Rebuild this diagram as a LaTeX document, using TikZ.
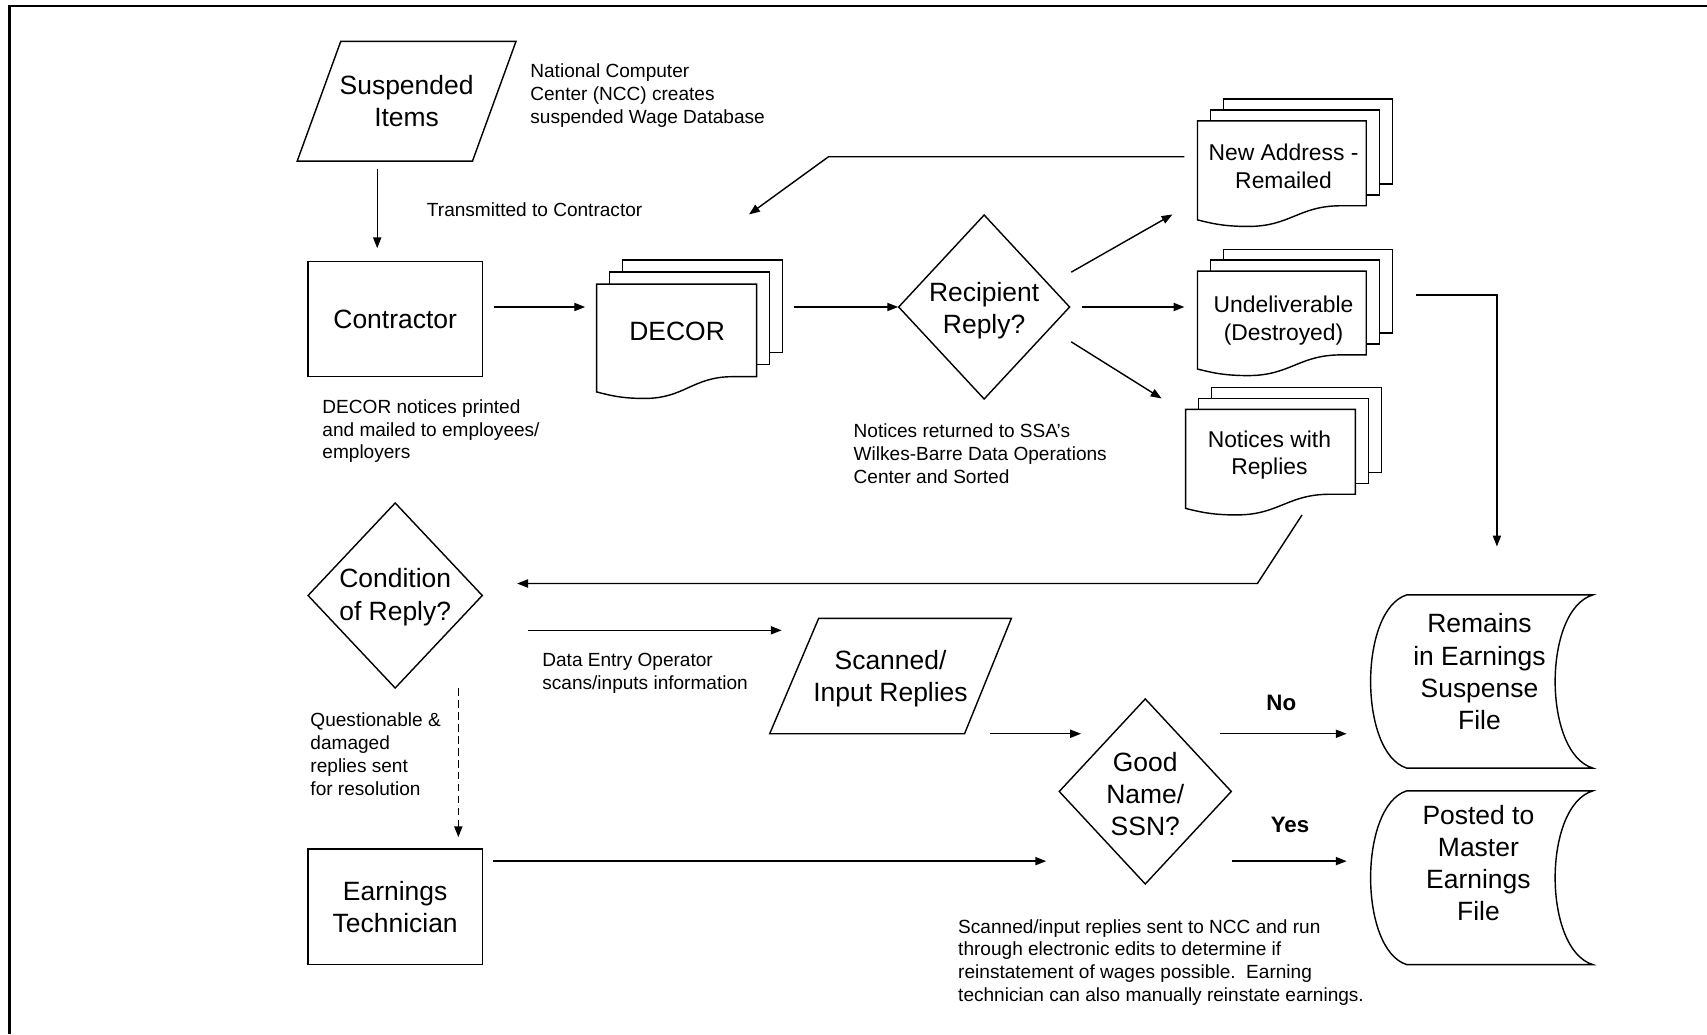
\documentclass[tikz,border=0pt]{standalone}
\usepackage{fontspec}
\setmainfont{Liberation Sans}
\usetikzlibrary{arrows.meta}
\newcommand{\mdoc}[6]{%
  % #1 L, #2 R, #3 T, #4 B (left bottom), #5 RB (right bottom), #6 dy
  \draw[shp] ({#1+24},{#3-#6}) -- ({#1+24},{#3-2*#6}) -- ({#2+24},{#3-2*#6}) -- ({#2+24},{#5-2*#6}) -- ({#2+12},{#5-2*#6});
  \draw[shp] ({#1+12},#3) -- ({#1+12},{#3-#6}) -- ({#2+12},{#3-#6}) -- ({#2+12},{#5-#6}) -- (#2,{#5-#6});
  \draw[shp] (#1,#4) -- (#1,#3) -- (#2,#3) -- (#2,#5) -- ({#1+0.85*(#2-#1)},#5)
    .. controls ({#1+0.6*(#2-#1)},#5) and ({#1+0.55*(#2-#1)},{#4+6}) .. ({#1+0.3*(#2-#1)},{#4+6})
    .. controls ({#1+0.15*(#2-#1)},{#4+6}) and ({#1+0.08*(#2-#1)},{#4+3}) .. (#1,#4) -- cycle;
}
\newcommand{\stored}[4]{%
  % #1 left corner x, #2 right corner x, #3 top, #4 bottom
  \draw[shp] (#1,#3) -- (#2,#3)
    .. controls ({#2-46},{#3+14}) and ({#2-46},{#4-14}) .. (#2,#4) -- (#1,#4)
    .. controls ({#1-44},{#4-14}) and ({#1-44},{#3+14}) .. (#1,#3) -- cycle;
}
\begin{document}
\begin{tikzpicture}[x=1pt,y=-1pt,
  shp/.style={line width=1.3pt, line join=miter},
  conn/.style={line width=1.3pt, -{Triangle[length=10pt,width=7.5pt]}},
  lbl/.style={inner sep=0pt, align=center, font=\fontsize{24.3}{29.5}\selectfont},
  doclbl/.style={inner sep=0pt, align=center, font=\fontsize{21}{25.5}\selectfont},
  note/.style={inner sep=0pt, align=left, anchor=west, font=\fontsize{17.5}{21}\selectfont},
  yn/.style={inner sep=0pt, font=\fontsize{20.5}{24}\selectfont\bfseries}]
\useasboundingbox (0,0) rectangle (1568,950);
% frame
\draw[line width=2.2pt] (8.6,950) -- (8.6,5.5) -- (1568,5.5);

% Suspended Items
\draw[shp] (313,38) -- (474,38) -- (434,148) -- (273,148) -- cycle;
\node[lbl] (susp) at (373.5,93) {Suspended\\Items};
\node[note] (ncc) at (487,88) {National Computer\\Center (NCC) creates\\suspended Wage Database};
\node[note] (trans) at (392,193) {Transmitted to Contractor};

% Contractor
\node[draw, shp, lbl, minimum width=160pt, minimum height=106pt] (contr) at (363,293) {Contractor};
\node[note] (decornote) at (296,396) {DECOR notices printed\\and mailed to employees/\\employers};

% DECOR
\mdoc{548}{695}{261}{360}{346}{11}
\node[lbl] (decor) at (622,304) {DECOR};

% Recipient Reply
\draw[shp] (904,197.5) -- (982.5,282) -- (904,366.5) -- (825.5,282) -- cycle;
\node[lbl] (recip) at (904,285) {Recipient\\Reply?};
\node[note] (retnote) at (784,417) {Notices returned to SSA’s\\Wilkes-Barre Data Operations\\Center and Sorted};

% Documents on the right
\mdoc{1100}{1255}{111}{202}{189}{10}
\node[doclbl] (newaddr) at (1179,153) {New Address -\\Remailed};
\mdoc{1100}{1255}{249}{339}{326}{10}
\node[doclbl] (undel) at (1179,294.5) {Undeliverable\\(Destroyed)};
\mdoc{1089}{1245}{376}{467}{454}{10}
\node[doclbl] (notices) at (1166,418) {Notices with\\Replies};

% Condition of Reply
\draw[shp] (363,462) -- (443,547) -- (363,632) -- (283,547) -- cycle;
\node[lbl] (cond) at (363,548.5) {Condition\\of Reply?};
\node[note] (datanote) at (498,618.5) {Data Entry Operator\\scans/inputs information};

% Scanned / Input Replies
\draw[shp] (752,568) -- (929,568) -- (886,674) -- (707,674) -- cycle;
\node[lbl] (scan) at (818,623.5) {Scanned/\\Input Replies};
\node[note] (questnote) at (285,692.5) {Questionable \&\\damaged\\replies sent\\for resolution};

% Earnings Technician
\node[draw, shp, lbl, minimum width=160pt, minimum height=106pt] (tech) at (363,833) {Earnings\\Technician};

% Good Name/SSN
\draw[shp] (1052,642) -- (1131,727) -- (1052,812) -- (973,727) -- cycle;
\node[lbl] (good) at (1052,729.5) {Good\\Name/\\SSN?};
\node[yn] (no) at (1177,646) {No};
\node[yn] (yes) at (1185,758) {Yes};

% Stored data
\stored{1292}{1463}{546.5}{705.5}
\node[lbl] (remains) at (1359,617) {Remains\\in Earnings\\Suspense\\File};
\stored{1292}{1463}{726.5}{886}
\node[lbl] (posted) at (1358,793) {Posted to\\Master\\Earnings\\File};

\node[note] (scannote) at (880,884) {Scanned/input replies sent to NCC and run\\through electronic edits to determine if\\reinstatement of wages possible.\ \ Earning\\technician can also manually reinstate earnings.};

% connector end points
\coordinate (a1s) at (346.5,155);  \coordinate (a1e) at (346.5,228);
\coordinate (a2s) at (453.5,282);  \coordinate (a2e) at (537.5,282);
\coordinate (a3s) at (729,282);    \coordinate (a3e) at (825,282);
\coordinate (a4s) at (984,250);    \coordinate (a4e) at (1077,197);
\coordinate (a5s) at (994,282);    \coordinate (a5e) at (1088,282);
\coordinate (a6s) at (984,314);    \coordinate (a6e) at (1067,366);
\coordinate (a7s) at (1088,144);   \coordinate (a7m) at (761,144);   \coordinate (a7e) at (688,197);
\coordinate (a8s) at (1301,271);   \coordinate (a8m) at (1375,271);  \coordinate (a8e) at (1375,502);
\coordinate (a9s) at (1196,473);   \coordinate (a9m) at (1155,536);  \coordinate (a9e) at (475,536);
\coordinate (a10s) at (485,579);   \coordinate (a10e) at (718,579);
\coordinate (a11s) at (421,632);   \coordinate (a11e) at (421,769);
\coordinate (a12s) at (909,674);   \coordinate (a12e) at (993,674);
\coordinate (a13s) at (453,791);   \coordinate (a13e) at (961,791);
\coordinate (a14s) at (1121,674);  \coordinate (a14e) at (1237,674);
\coordinate (a15s) at (1132,791);  \coordinate (a15e) at (1237,791);

\draw[conn] (a1s) -- (a1e);
\draw[conn] (a2s) -- (a2e);
\draw[conn] (a3s) -- (a3e);
\draw[conn] (a4s) -- (a4e);
\draw[conn] (a5s) -- (a5e);
\draw[conn] (a6s) -- (a6e);
\draw[conn] (a7s) -- (a7m) -- (a7e);
\draw[conn] (a8s) -- (a8m) -- (a8e);
\draw[conn] (a9s) -- (a9m) -- (a9e);
\draw[conn] (a10s) -- (a10e);
\draw[conn, dash pattern=on 7pt off 4pt] (a11s) -- (a11e);
\draw[conn] (a12s) -- (a12e);
\draw[conn] (a13s) -- (a13e);
\draw[conn] (a14s) -- (a14e);
\draw[conn] (a15s) -- (a15e);
\end{tikzpicture}
\end{document}
